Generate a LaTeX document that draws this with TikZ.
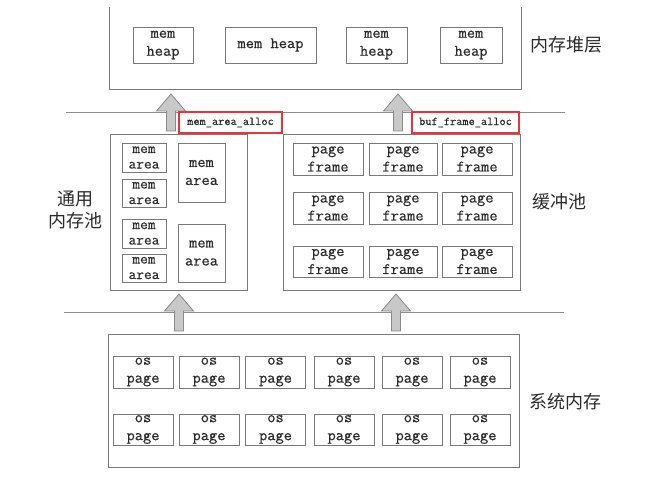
\documentclass[tikz,border=0pt]{standalone}
\usepackage{fontspec}
\setmonofont{Latin Modern Mono}[FakeBold=0.5]
\newfontfamily\cjk{Noto Sans CJK SC}
\usetikzlibrary{calc}
\definecolor{linegray}{HTML}{8C8C8C}
\definecolor{boxgray}{HTML}{7A7A7A}
\definecolor{txt}{HTML}{2A2A2A}
\definecolor{redbox}{HTML}{E8343A}
\definecolor{arrowfill}{HTML}{C8C8C8}
\definecolor{arrowdraw}{HTML}{8A8A8A}
\newcommand\fatup[1]{\draw[fatarrow] (#1) ++(-4.5,0) -- ++(0,-20) -- ++(-10,0) -- ++(14.5,-17) -- ++(14.5,17) -- ++(-10,0) -- ++(0,20) -- cycle;}
\begin{document}
\begin{tikzpicture}[x=1pt,y=-1pt,
 box/.style={draw=boxgray, line width=0.7pt, inner sep=0pt, align=center, text=txt, font=\ttfamily\fontsize{16}{18}\selectfont},
 smallbox/.style={box, font=\ttfamily\fontsize{15}{15.5}\selectfont},
 layer/.style={draw=boxgray, line width=0.8pt, inner sep=0pt},
 redlabel/.style={draw=redbox, line width=1.6pt, fill=white, inner sep=0pt, text=txt, font=\ttfamily\fontsize{12}{14}\selectfont},
 cjklabel/.style={text=txt, font=\cjk\fontsize{18}{22}\selectfont, align=center, inner sep=0pt},
 sep/.style={draw=linegray, line width=0.8pt},
 fatarrow/.style={draw=arrowdraw, fill=arrowfill, line width=0.8pt, line join=miter}
]
\useasboundingbox (0,0) rectangle (660,481);

% separator lines
\coordinate (s1a) at (66,112); \coordinate (s1b) at (565,112);
\coordinate (s2a) at (64,312); \coordinate (s2b) at (564,312);
\draw[sep] (s1a) -- (s1b);
\draw[sep] (s2a) -- (s2b);

% heap layer (top edge cut off)
\node[minimum width=411pt, minimum height=82pt, inner sep=0pt] (heaplayer) at (315.5,48) {};
\draw[layer] (heaplayer.north west) -- (heaplayer.south west) -- (heaplayer.south east) -- (heaplayer.north east);
\node[box, minimum width=60pt, minimum height=36pt] (h1) at (163,45) {mem\\heap};
\node[box, minimum width=91pt, minimum height=36pt] (h2) at (270.5,45) {mem heap};
\node[box, minimum width=61pt, minimum height=36pt] (h3) at (376.5,45) {mem\\heap};
\node[box, minimum width=62pt, minimum height=36pt] (h4) at (471,45) {mem\\heap};
\node[cjklabel] (lheap) at (566,45) {内存堆层};

% common memory pool
\node[layer, minimum width=137pt, minimum height=156pt] (leftpool) at (178.5,212) {};
\node[smallbox, minimum width=44pt, minimum height=29pt] (a1) at (144,157.5) {mem\\area};
\node[smallbox, minimum width=44pt, minimum height=28pt] (a2) at (144,193) {mem\\area};
\node[smallbox, minimum width=44pt, minimum height=29pt] (a3) at (144,233.5) {mem\\area};
\node[smallbox, minimum width=44pt, minimum height=28pt] (a4) at (144,268) {mem\\area};
\node[box, minimum width=47pt, minimum height=59pt] (a5) at (201.5,172.5) {mem\\area};
\node[box, minimum width=47pt, minimum height=58pt] (a6) at (201.5,253) {mem\\area};
\node[cjklabel] (lcommon) at (75,210) {通用\\内存池};

% buffer pool
\node[layer, minimum width=237pt, minimum height=156pt] (rightpool) at (401.5,212) {};
\foreach \r/\y/\h in {1/159/32, 2/208/32, 3/261.5/31}{
  \node[box, minimum width=70pt, minimum height=\h pt] (f\r a) at (328,\y) {page\\frame};
  \node[box, minimum width=68pt, minimum height=\h pt] (f\r b) at (403,\y) {page\\frame};
  \node[box, minimum width=70pt, minimum height=\h pt] (f\r c) at (477,\y) {page\\frame};
}
\node[cjklabel] (lbuf) at (559,202) {缓冲池};

% system memory
\node[layer, minimum width=411pt, minimum height=133pt] (sysmem) at (313.5,400.5) {};
\foreach \r/\y/\h in {1/372/32, 2/429.5/31}{
  \foreach \c/\x in {1/143, 2/209, 3/275.5, 4/344, 5/412, 6/480}{
    \node[box, minimum width=60pt, minimum height=\h pt] (p\r\c) at (\x,\y) {os\\page};
  }
}
\node[cjklabel] (lsys) at (565,402) {系统内存};

% arrows
\coordinate (ua1) at (171,131);
\coordinate (ua2) at (398,131);
\coordinate (la1) at (179,331);
\coordinate (la2) at (396,331);
\fatup{ua1}
\fatup{ua2}
\fatup{la1}
\fatup{la2}

% function labels
\node[redlabel, minimum width=103pt, minimum height=21pt] (alloc1) at (230.5,122.5) {mem\_area\_alloc};
\node[redlabel, minimum width=107pt, minimum height=21pt] (alloc2) at (465.5,122.5) {buf\_frame\_alloc};
\end{tikzpicture}
\end{document}
